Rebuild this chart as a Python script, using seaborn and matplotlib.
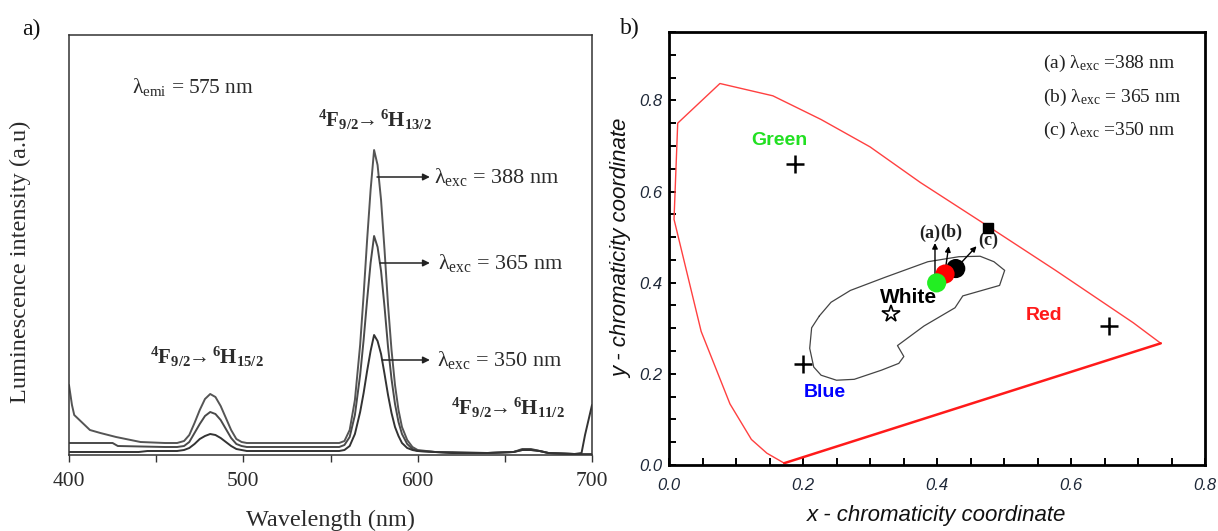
import numpy as np
import pandas as pd
import matplotlib
matplotlib.use("Agg")
import matplotlib.pyplot as plt
from matplotlib.ticker import MultipleLocator, FormatStrFormatter
import seaborn as sns

# ---------------- data: panel a (emission spectra, arbitrary units) ----------------
wl_388 = [400, 401.7, 403, 406, 412, 418, 427, 441, 455, 462, 466, 469, 472, 475, 478, 481, 484, 487, 490,
          493, 496, 499, 502, 520, 540, 555, 558, 561, 564, 567, 569, 571, 573, 575, 577, 579, 581, 583,
          585, 587, 589, 591, 594, 597, 600, 610, 620, 640, 655, 660, 665, 670, 675, 690, 700]
int_388 = [70, 50, 40, 35, 25, 22, 18, 13, 12, 12, 14, 20, 32, 45, 56, 61, 58, 49, 37,
           25, 16, 13, 12, 12, 12, 12, 14, 25, 55, 110, 160, 215, 265, 305, 290, 255, 205, 150,
           105, 70, 45, 28, 15, 8, 5, 3, 3, 2, 3, 5, 5, 4, 2, 1, 1]

wl_365 = [400, 425, 428, 455, 462, 466, 469, 472, 475, 478, 481, 484, 487, 490, 493, 496, 499, 502, 520,
          540, 555, 558, 561, 564, 567, 569, 571, 573, 575, 577, 579, 581, 583, 585, 587, 589, 591, 594,
          597, 600, 610, 620, 640, 655, 660, 665, 670, 675, 690, 700]
int_365 = [12, 12, 9, 8, 8, 9, 13, 22, 31, 39, 43, 41, 35, 26, 17, 11, 9, 8, 8,
           8, 8, 10, 18, 40, 80, 115, 155, 192, 219, 208, 184, 148, 108, 76, 51, 33, 21, 11,
           6, 4, 3, 2, 2, 3, 6, 6, 4, 2, 1, 1]

wl_350 = [400, 440, 445, 455, 462, 466, 469, 472, 475, 478, 481, 484, 487, 490, 493, 496, 499, 502, 520,
          540, 555, 558, 561, 564, 567, 569, 571, 573, 575, 577, 579, 581, 583, 585, 587, 589, 591, 594,
          597, 600, 610, 620, 640, 655, 660, 665, 670, 675, 690, 694, 696, 698, 700]
int_350 = [3, 3, 4, 4, 4, 5, 7, 11, 16, 19, 21, 20, 17, 13, 9, 6, 5, 4, 4,
           4, 4, 5, 9, 21, 43, 62, 84, 104, 120, 114, 101, 81, 60, 42, 28, 19, 12, 7,
           5, 4, 3, 2, 2, 3, 5, 5, 4, 2, 1, 2, 20, 35, 50]

x_ticks_a = [400, 500, 600, 700]

# ---------------- data: panel b (CIE chromaticity) ----------------
locus_x = [0.172, 0.146, 0.123, 0.091, 0.048, 0.0075, 0.013, 0.076, 0.155, 0.227, 0.300,
           0.375, 0.476, 0.577, 0.693, 0.713, 0.734, 0.172]
locus_y = [0.004, 0.026, 0.056, 0.134, 0.293, 0.539, 0.750, 0.837, 0.810, 0.758, 0.698,
           0.620, 0.524, 0.427, 0.312, 0.290, 0.267, 0.004]

region_x = [0.2244, 0.2129, 0.210, 0.216, 0.227, 0.250, 0.2765, 0.317, 0.343, 0.3505, 0.341,
            0.3806, 0.4269, 0.4385, 0.4934, 0.501, 0.485, 0.4644, 0.4327, 0.3864, 0.3228,
            0.2707, 0.2418, 0.2244]
region_y = [0.327, 0.301, 0.256, 0.215, 0.197, 0.186, 0.188, 0.208, 0.223, 0.238, 0.262,
            0.305, 0.345, 0.371, 0.394, 0.427, 0.446, 0.458, 0.457, 0.446, 0.412,
            0.383, 0.357, 0.327]

primary_names = ["Green", "Blue", "Red"]
primary_x = [0.1886, 0.1996, 0.6565]
primary_y = [0.661, 0.221, 0.306]

white_x, white_y = 0.332, 0.331

sample_labels = ["(c)", "(b)", "(a)"]
sample_x = [0.428, 0.412, 0.3995]
sample_y = [0.431, 0.419, 0.3996]
sample_colors = ["#000000", "#ff0000", "#22ee22"]

square_x, square_y = 0.4766, 0.519

legend_lines = ["(a) λ$_{\\mathrm{exc}}$ =388 nm",
                "(b) λ$_{\\mathrm{exc}}$ = 365 nm",
                "(c) λ$_{\\mathrm{exc}}$ =350 nm"]

# ---------------- style ----------------
sns.set_theme(style="white")
plt.rcParams["font.family"] = ["Liberation Serif", "DejaVu Sans"]
plt.rcParams["mathtext.fontset"] = "custom"
plt.rcParams["mathtext.rm"] = "Liberation Serif"
plt.rcParams["mathtext.it"] = "Liberation Serif:italic"
plt.rcParams["mathtext.bf"] = "Liberation Serif:bold"

W, H = 1218, 531
fig = plt.figure(figsize=(W / 100, H / 100), dpi=100)
fig.patch.set_facecolor("white")

ax1 = fig.add_axes([69 / W, 1 - 455 / H, (592 - 69) / W, (455 - 35) / H])
ax2 = fig.add_axes([669 / W, 1 - 465 / H, (1205 - 669) / W, (465 - 32) / H])

# ---------------- panel a ----------------
txtc = "#2b2b2b"
curves = [(wl_388, int_388, "#555555"), (wl_365, int_365, "#4a4a4a"), (wl_350, int_350, "#333333")]
for wl, it, c in curves:
    sns.lineplot(x=wl, y=it, ax=ax1, color=c, lw=1.4, sort=False, estimator=None)

ax1.set_xlim(400, 700)
ax1.set_ylim(0, 420)
ax1.set_xticks(x_ticks_a)
ax1.set_xticklabels([str(v) for v in x_ticks_a], fontsize=15.5, color=txtc)
ax1.xaxis.set_minor_locator(MultipleLocator(50))
ax1.set_yticks([])
ax1.tick_params(axis="x", which="both", direction="out", length=5, width=1, color="#333333",
                bottom=True, pad=7)
for s in ax1.spines.values():
    s.set_color("#333333")
    s.set_linewidth(1.1)
ax1.set_xlabel("Wavelength (nm)", fontsize=17.5, color=txtc, labelpad=14)
ax1.set_ylabel("Luminescence intensity (a.u)", fontsize=17.5, color=txtc)
ax1.yaxis.set_label_coords(-0.073, 0.46)

ax1.text(436, 368, "λ$_{\\mathrm{emi}}$ = 575 nm", fontsize=15.5, color=txtc, ha="left", va="center")
ax1.text(575.5, 335, r"$\mathbf{{}^{4}F_{9/2}\!\!\rightarrow{}^{6}H_{13/2}}$", fontsize=15,
         color=txtc, ha="center", va="center")
ax1.text(479, 98, r"$\mathbf{{}^{4}F_{9/2}\!\!\rightarrow{}^{6}H_{15/2}}$", fontsize=15,
         color=txtc, ha="center", va="center")
ax1.text(652, 47, r"$\mathbf{{}^{4}F_{9/2}\!\!\rightarrow{}^{6}H_{11/2}}$", fontsize=15,
         color=txtc, ha="center", va="center")

arrow_rows = [(576.7, 278, 609.5, "λ$_{\\mathrm{exc}}$ = 388 nm"),
              (578.4, 192, 611.5, "λ$_{\\mathrm{exc}}$ = 365 nm"),
              (579.6, 95, 611.0, "λ$_{\\mathrm{exc}}$ = 350 nm")]
for x0, yv, xt, lab in arrow_rows:
    ax1.annotate("", xy=(607, yv), xytext=(x0, yv),
                 arrowprops=dict(arrowstyle="-|>", color="#222222", lw=1.1, mutation_scale=10,
                                 shrinkA=0, shrinkB=0))
    ax1.text(xt, yv, lab, fontsize=16, color=txtc, ha="left", va="center")

fig.text(22 / W, 1 - 29 / H, "a)", fontsize=17, ha="left", va="center", color="#111111")

# ---------------- panel b ----------------
sns.lineplot(x=locus_x[:-1], y=locus_y[:-1], ax=ax2, color="#ff4040", lw=1.0, sort=False, estimator=None)
sns.lineplot(x=locus_x[-2:], y=locus_y[-2:], ax=ax2, color="#ff1a1a", lw=1.8, sort=False, estimator=None)
sns.lineplot(x=region_x, y=region_y, ax=ax2, color="#444444", lw=0.9, sort=False, estimator=None)

sns.scatterplot(x=primary_x, y=primary_y, ax=ax2, marker="+", s=150, color="black", linewidth=1.8)
ax2.plot([white_x], [white_y], marker="*", ms=13, mfc="white", mec="black", mew=1.2, ls="none")

# arrows from samples
ax2.annotate("", xy=(0.397, 0.487), xytext=(0.397, 0.405),
             arrowprops=dict(arrowstyle="-|>", color="black", lw=1.0, mutation_scale=8, shrinkA=0, shrinkB=0))
ax2.annotate("", xy=(0.4175, 0.480), xytext=(0.412, 0.424),
             arrowprops=dict(arrowstyle="-|>", color="black", lw=1.0, mutation_scale=8, shrinkA=0, shrinkB=0))
ax2.annotate("", xy=(0.459, 0.480), xytext=(0.428, 0.431),
             arrowprops=dict(arrowstyle="-|>", color="black", lw=1.0, mutation_scale=8, shrinkA=0, shrinkB=0))

sns.scatterplot(x=sample_x, y=sample_y, ax=ax2, hue=sample_labels,
                palette=dict(zip(sample_labels, sample_colors)), s=190, linewidth=0,
                legend=False, zorder=5)
ax2.plot([square_x], [square_y], marker="s", ms=7, color="black", ls="none", zorder=6)

ax2.text(0.3896, 0.508, "(a)", fontsize=13, fontweight="bold", ha="center", va="center", color="#222222")
ax2.text(0.422, 0.511, "(b)", fontsize=13, fontweight="bold", ha="center", va="center", color="#222222")
ax2.text(0.4766, 0.493, "(c)", fontsize=13, fontweight="bold", ha="center", va="center", color="#222222")

sans = ["Liberation Sans", "DejaVu Sans"]
ax2.text(0.165, 0.713, "Green", fontsize=14, fontweight="bold", color="#22e022", ha="center", va="center", family=sans)
ax2.text(0.233, 0.160, "Blue", fontsize=14, fontweight="bold", color="#0000ff", ha="center", va="center", family=sans)
ax2.text(0.560, 0.329, "Red", fontsize=14, fontweight="bold", color="#ff1a1a", ha="center", va="center", family=sans)
ax2.text(0.3575, 0.368, "White", fontsize=15, fontweight="bold", color="black", ha="center", va="center", family=sans)

for i, line in enumerate(legend_lines):
    ax2.text(0.558, [0.881, 0.806, 0.734][i], line, fontsize=14, color="#222222", ha="left", va="center")

ax2.set_xlim(0, 0.8)
ax2.set_ylim(0, 0.95)
ax2.xaxis.set_major_locator(MultipleLocator(0.2))
ax2.xaxis.set_minor_locator(MultipleLocator(0.05))
ax2.yaxis.set_major_locator(MultipleLocator(0.2))
ax2.yaxis.set_minor_locator(MultipleLocator(0.05))
ax2.xaxis.set_major_formatter(FormatStrFormatter("%.1f"))
ax2.yaxis.set_major_formatter(FormatStrFormatter("%.1f"))
ax2.tick_params(axis="both", which="both", direction="in", length=5, width=1.4, color="black",
                bottom=True, left=True, top=False, right=False)
ax2.tick_params(axis="x", which="major", pad=9)
ax2.tick_params(axis="y", which="major", pad=5)
for lab in ax2.get_xticklabels() + ax2.get_yticklabels():
    lab.set_fontfamily(sans)
    lab.set_fontstyle("italic")
    lab.set_fontsize(12)
    lab.set_color("#1e2838")
for s in ax2.spines.values():
    s.set_color("black")
    s.set_linewidth(2.0)
ax2.set_xlabel("x - chromaticity coordinate", fontsize=16, fontstyle="italic", family=sans,
               color="#111111", labelpad=9)
ax2.set_ylabel("y - chromaticity coordinate", fontsize=16, fontstyle="italic", family=sans,
               color="#111111", labelpad=5)

fig.text(620 / W, 1 - 28 / H, "b)", fontsize=17, ha="left", va="center", color="#111111")

fig.savefig("out.png", dpi=100, facecolor="white")
